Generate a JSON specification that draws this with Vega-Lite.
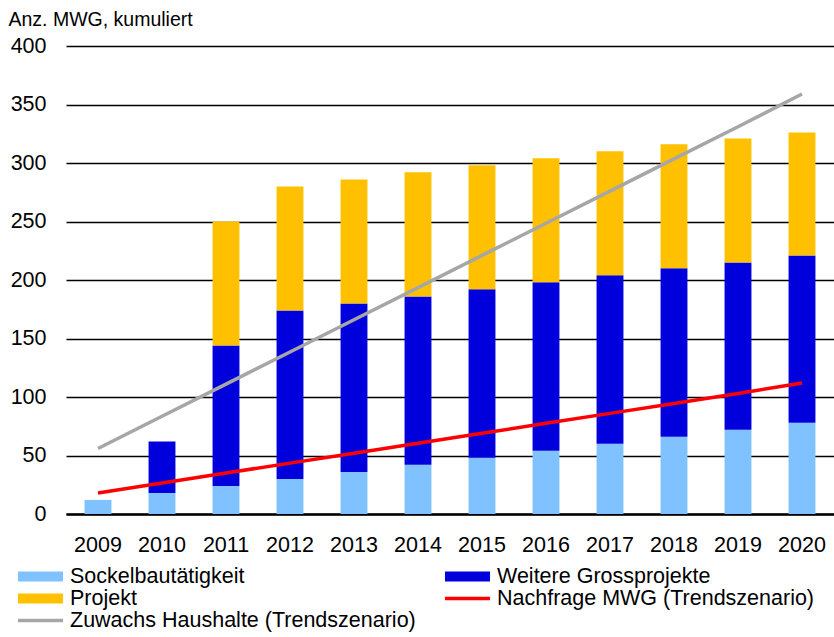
{
  "$schema": "https://vega.github.io/schema/vega-lite/v6.json",
  "width": 768,
  "height": 468,
  "autosize": {"type": "none"},
  "padding": {"left": 66, "top": 46, "right": 0, "bottom": 123},
  "background": "white",
  "config": {
    "view": {"stroke": null},
    "font": "Liberation Sans",
    "axis": {"labelFont": "Liberation Sans", "titleFont": "Liberation Sans", "labelColor": "black", "titleColor": "black"},
    "legend": {"labelFont": "Liberation Sans"}
  },
  "data": {
    "values": [
      {"year": "2009", "series": "Sockelbautätigkeit", "value": 12, "k": 1},
      {"year": "2010", "series": "Sockelbautätigkeit", "value": 18, "k": 1},
      {"year": "2011", "series": "Sockelbautätigkeit", "value": 24, "k": 1},
      {"year": "2012", "series": "Sockelbautätigkeit", "value": 30, "k": 1},
      {"year": "2013", "series": "Sockelbautätigkeit", "value": 36, "k": 1},
      {"year": "2014", "series": "Sockelbautätigkeit", "value": 42, "k": 1},
      {"year": "2015", "series": "Sockelbautätigkeit", "value": 48, "k": 1},
      {"year": "2016", "series": "Sockelbautätigkeit", "value": 54, "k": 1},
      {"year": "2017", "series": "Sockelbautätigkeit", "value": 60, "k": 1},
      {"year": "2018", "series": "Sockelbautätigkeit", "value": 66, "k": 1},
      {"year": "2019", "series": "Sockelbautätigkeit", "value": 72, "k": 1},
      {"year": "2020", "series": "Sockelbautätigkeit", "value": 78, "k": 1},
      {"year": "2010", "series": "Weitere Grossprojekte", "value": 44, "k": 2},
      {"year": "2011", "series": "Weitere Grossprojekte", "value": 120, "k": 2},
      {"year": "2012", "series": "Weitere Grossprojekte", "value": 144, "k": 2},
      {"year": "2013", "series": "Weitere Grossprojekte", "value": 144, "k": 2},
      {"year": "2014", "series": "Weitere Grossprojekte", "value": 144, "k": 2},
      {"year": "2015", "series": "Weitere Grossprojekte", "value": 144, "k": 2},
      {"year": "2016", "series": "Weitere Grossprojekte", "value": 144, "k": 2},
      {"year": "2017", "series": "Weitere Grossprojekte", "value": 144, "k": 2},
      {"year": "2018", "series": "Weitere Grossprojekte", "value": 144, "k": 2},
      {"year": "2019", "series": "Weitere Grossprojekte", "value": 143, "k": 2},
      {"year": "2020", "series": "Weitere Grossprojekte", "value": 143, "k": 2},
      {"year": "2011", "series": "Projekt", "value": 106, "k": 3},
      {"year": "2012", "series": "Projekt", "value": 106, "k": 3},
      {"year": "2013", "series": "Projekt", "value": 106, "k": 3},
      {"year": "2014", "series": "Projekt", "value": 106, "k": 3},
      {"year": "2015", "series": "Projekt", "value": 106, "k": 3},
      {"year": "2016", "series": "Projekt", "value": 106, "k": 3},
      {"year": "2017", "series": "Projekt", "value": 106, "k": 3},
      {"year": "2018", "series": "Projekt", "value": 106, "k": 3},
      {"year": "2019", "series": "Projekt", "value": 106, "k": 3},
      {"year": "2020", "series": "Projekt", "value": 105, "k": 3},
      {"year": "2009", "series": "Nachfrage MWG (Trendszenario)", "value": 18, "k": 4},
      {"year": "2010", "series": "Nachfrage MWG (Trendszenario)", "value": 26.5, "k": 4},
      {"year": "2011", "series": "Nachfrage MWG (Trendszenario)", "value": 35, "k": 4},
      {"year": "2012", "series": "Nachfrage MWG (Trendszenario)", "value": 43.5, "k": 4},
      {"year": "2013", "series": "Nachfrage MWG (Trendszenario)", "value": 52, "k": 4},
      {"year": "2014", "series": "Nachfrage MWG (Trendszenario)", "value": 60.5, "k": 4},
      {"year": "2015", "series": "Nachfrage MWG (Trendszenario)", "value": 69, "k": 4},
      {"year": "2016", "series": "Nachfrage MWG (Trendszenario)", "value": 77.5, "k": 4},
      {"year": "2017", "series": "Nachfrage MWG (Trendszenario)", "value": 86, "k": 4},
      {"year": "2018", "series": "Nachfrage MWG (Trendszenario)", "value": 94.5, "k": 4},
      {"year": "2019", "series": "Nachfrage MWG (Trendszenario)", "value": 103, "k": 4},
      {"year": "2020", "series": "Nachfrage MWG (Trendszenario)", "value": 112, "k": 4},
      {"year": "2009", "series": "Zuwachs Haushalte (Trendszenario)", "value": 56, "k": 5},
      {"year": "2010", "series": "Zuwachs Haushalte (Trendszenario)", "value": 83.5, "k": 5},
      {"year": "2011", "series": "Zuwachs Haushalte (Trendszenario)", "value": 111, "k": 5},
      {"year": "2012", "series": "Zuwachs Haushalte (Trendszenario)", "value": 138.5, "k": 5},
      {"year": "2013", "series": "Zuwachs Haushalte (Trendszenario)", "value": 166, "k": 5},
      {"year": "2014", "series": "Zuwachs Haushalte (Trendszenario)", "value": 193.5, "k": 5},
      {"year": "2015", "series": "Zuwachs Haushalte (Trendszenario)", "value": 221, "k": 5},
      {"year": "2016", "series": "Zuwachs Haushalte (Trendszenario)", "value": 248.5, "k": 5},
      {"year": "2017", "series": "Zuwachs Haushalte (Trendszenario)", "value": 276, "k": 5},
      {"year": "2018", "series": "Zuwachs Haushalte (Trendszenario)", "value": 303.5, "k": 5},
      {"year": "2019", "series": "Zuwachs Haushalte (Trendszenario)", "value": 331, "k": 5},
      {"year": "2020", "series": "Zuwachs Haushalte (Trendszenario)", "value": 359, "k": 5}
    ]
  },
  "encoding": {
    "x": {
      "field": "year", "type": "nominal",
      "scale": {"paddingInner": 0.58, "paddingOuter": 0.29},
      "axis": {
        "title": null, "labelAngle": 0, "labelFontSize": 21.5, "labelPadding": 20,
        "ticks": false, "domainColor": "black", "domainWidth": 2.5, "grid": false
      }
    },
    "y": {
      "field": "value", "type": "quantitative",
      "scale": {"domain": [0, 400], "nice": false},
      "axis": {
        "title": "Anz. MWG,  kumuliert", "titleAngle": 0, "titleAlign": "left", "titleBaseline": "alphabetic",
        "titleX": -58, "titleY": -21, "titleFontSize": 19.5, "titleFontWeight": "normal",
        "values": [0, 50, 100, 150, 200, 250, 300, 350, 400],
        "labelFontSize": 21.5, "labelPadding": 20, "ticks": false, "domain": false,
        "grid": true, "gridColor": "black", "gridWidth": 1.5, "gridOpacity": 1
      }
    },
    "color": {
      "field": "series", "type": "nominal",
      "scale": {
        "domain": ["Sockelbautätigkeit", "Projekt", "Zuwachs Haushalte (Trendszenario)", "Weitere Grossprojekte", "Nachfrage MWG (Trendszenario)"],
        "range": ["#80C1FF", "#FFC000", "#A6A6A6", "#0000DD", "#FF0000"]
      },
      "legend": {
        "orient": "none", "legendX": -37, "legendY": 519, "columns": 2, "title": null,
        "labelFontSize": 21.5, "labelColor": "black", "symbolSize": 529, "symbolType": "M-1.96,-0.43H1.96V0.43H-1.96Z",
        "columnPadding": 28, "rowPadding": 0, "labelOffset": 18, "labelLimit": 0,
        "encode": {
          "symbols": {
            "update": {
              "shape": {"signal": "indexof(['Nachfrage MWG (Trendszenario)','Zuwachs Haushalte (Trendszenario)'], datum.value) >= 0 ? 'M-1.96,-0.15H1.96V0.15H-1.96Z' : 'M-1.96,-0.43H1.96V0.43H-1.96Z'"},
              "fill": {"scale": "color", "field": "value"},
              "stroke": {"value": "transparent"},
              "strokeWidth": {"value": 0},
              "opacity": {"value": 1},
              "fillOpacity": {"value": 1}
            }
          }
        }
      }
    }
  },
  "layer": [
    {
      "transform": [{"filter": "datum.k <= 3"}],
      "mark": {"type": "bar"},
      "encoding": {
        "y": {"field": "value", "type": "quantitative", "stack": "zero"},
        "order": {"field": "k", "type": "quantitative"}
      }
    },
    {
      "transform": [{"filter": "datum.k >= 4"}],
      "mark": {"type": "line", "strokeWidth": 3.5},
      "encoding": {}
    }
  ]
}
